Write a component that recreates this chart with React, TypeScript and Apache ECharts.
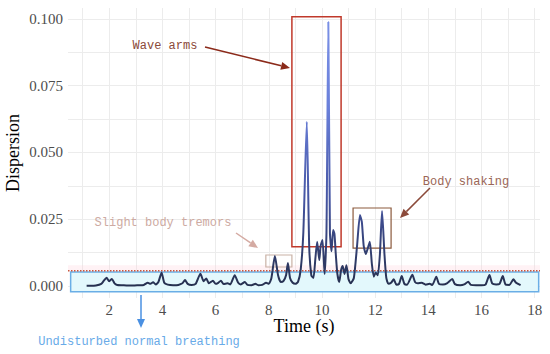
import React, { useEffect, useRef } from "react";
import * as echarts from "echarts";

const times = [
  1.15, 1.3, 1.5, 1.7, 1.8, 1.9, 2.0, 2.1, 2.2, 2.3, 2.5, 2.7, 2.9, 3.1, 3.3, 3.45, 3.55, 3.65, 3.75, 3.85,
  3.97, 4.07, 4.2, 4.4, 4.6, 4.75, 4.85, 4.95, 5.1, 5.25, 5.43, 5.55, 5.65, 5.75, 5.9, 6.0, 6.1, 6.2, 6.3, 6.45,
  6.55, 6.72, 6.85, 6.95, 7.1, 7.2, 7.35, 7.5, 7.6, 7.75, 7.9, 8.0, 8.1, 8.23, 8.35, 8.45, 8.55, 8.65, 8.72, 8.8,
  8.9, 9.0, 9.1, 9.2, 9.3, 9.43, 9.52, 9.6, 9.68, 9.75, 9.82, 9.9, 9.95, 10.02, 10.1, 10.17, 10.24, 10.3, 10.36, 10.42,
  10.47, 10.52, 10.58, 10.65, 10.72, 10.78, 10.85, 10.92, 11.0, 11.08, 11.2, 11.32, 11.43, 11.5, 11.57, 11.65, 11.72, 11.8, 11.88, 11.95,
  12.02, 12.1, 12.18, 12.26, 12.35, 12.42, 12.5, 12.6, 12.7, 12.8, 12.9, 13.0, 13.1, 13.2, 13.4, 13.5, 13.6, 13.75, 13.9, 14.05,
  14.15, 14.3, 14.4, 14.55, 14.7, 14.9, 15.0, 15.2, 15.35, 15.5, 15.6, 15.8, 16.0, 16.15, 16.3, 16.4, 16.55, 16.68, 16.8, 16.9,
  17.05, 17.2, 17.3, 17.47,
];

const dispersion = [
  0.0001, 0.0001, 0.0002, 0.0008, 0.002, 0.0031, 0.0018, 0.0026, 0.001, 0.0004, 0.0003, 0.0002, 0.0002, 0.0003, 0.0004, 0.0012, 0.0008, 0.0014, 0.0006, 0.0015,
  0.005, 0.0012, 0.0005, 0.0003, 0.0004, 0.001, 0.0022, 0.0008, 0.0004, 0.0008, 0.0046, 0.0018, 0.0028, 0.001, 0.002, 0.0008, 0.0012, 0.002, 0.0007, 0.001,
  0.0006, 0.004, 0.0012, 0.0006, 0.0015, 0.0004, 0.0003, 0.0008, 0.0003, 0.0004, 0.0012, 0.0008, 0.003, 0.0112, 0.004, 0.0015, 0.0018, 0.004, 0.0086, 0.003,
  0.0012, 0.0008, 0.0015, 0.006, 0.02, 0.0615, 0.015, 0.004, 0.003, 0.01, 0.0166, 0.0097, 0.015, 0.0172, 0.0045, 0.02, 0.0989, 0.02, 0.013, 0.021,
  0.0195, 0.012, 0.0045, 0.0015, 0.006, 0.0075, 0.0045, 0.0078, 0.0025, 0.001, 0.003, 0.015, 0.0266, 0.024, 0.015, 0.012, 0.014, 0.0166, 0.008, 0.0035,
  0.005, 0.004, 0.012, 0.0281, 0.012, 0.003, 0.0008, 0.0012, 0.0025, 0.0005, 0.0008, 0.0037, 0.0008, 0.0005, 0.0042, 0.0015, 0.001, 0.0012, 0.0005, 0.0008,
  0.0004, 0.0035, 0.0008, 0.0006, 0.001, 0.0026, 0.0007, 0.0003, 0.0006, 0.0016, 0.0004, 0.0003, 0.0003, 0.0005, 0.0041, 0.001, 0.0006, 0.0008, 0.0037, 0.0006,
  0.0004, 0.0025, 0.0012, 0.0003,
];

const xTickLabels = [2, 4, 6, 8, 10, 12, 14, 16, 18];
const xGridValues = [1, 2, 3, 4, 5, 6, 7, 8, 9, 10, 11, 12, 13, 14, 15, 16, 17, 18];
const yTickLabels = [0, 0.025, 0.05, 0.075, 0.1];
const yGridValues = [0, 0.0125, 0.025, 0.0375, 0.05, 0.0625, 0.075, 0.0875, 0.1];

const threshold = 0.0057;
const xRange = [0.45, 18.2];

const MONO = "Liberation Mono";
const SERIF = "Liberation Serif";

function arrow(x1: number, y1: number, x2: number, y2: number, color: string, w = 1.5) {
  const ang = Math.atan2(y2 - y1, x2 - x1);
  const L = 9, W = 4;
  const bx = x2 - L * Math.cos(ang), by = y2 - L * Math.sin(ang);
  const px = -Math.sin(ang) * W, py = Math.cos(ang) * W;
  return [
    { type: "line", shape: { x1, y1, x2: bx, y2: by }, style: { stroke: color, lineWidth: w }, silent: true, z: 100 },
    {
      type: "polygon",
      shape: { points: [[x2, y2], [bx + px, by + py], [bx - px, by - py]] },
      style: { fill: color },
      silent: true,
      z: 100,
    },
  ];
}

function label(text: string, x: number, y: number, color: string) {
  return {
    type: "text",
    x,
    y,
    z: 100,
    style: { text, fill: color, font: `12px "${MONO}", monospace`, textAlign: "center", textVerticalAlign: "middle" },
    silent: true,
  };
}

export default function App() {
  const ref = useRef<HTMLDivElement>(null);
  useEffect(() => {
    document.body.style.margin = "0";
    if (!ref.current) return;
    const chart = echarts.init(ref.current, undefined, { renderer: "svg" });
    const data = times.map((t, i) => [t, dispersion[i]]);
    chart.setOption({
      animation: false,
      backgroundColor: "#ffffff",
      textStyle: { fontFamily: SERIF },
      grid: { left: 68, right: 10, top: 8, bottom: 56, containLabel: false, outerBoundsMode: "none" },
      xAxis: {
        type: "value",
        min: xRange[0],
        max: xRange[1],
        name: "Time (s)",
        nameLocation: "middle",
        nameGap: 19,
        nameMoveOverlap: false,
        nameTextStyle: { fontFamily: SERIF, fontSize: 18, color: "#000" },
        axisLine: { show: false },
        axisTick: { show: false, customValues: xGridValues },
        axisLabel: {
          customValues: xTickLabels,
          fontFamily: SERIF,
          fontSize: 15,
          color: "#4d4d4d",
          margin: 4,
        },
        splitLine: { show: true, lineStyle: { color: "#ececec", width: 1 } },
      },
      yAxis: {
        type: "value",
        min: -0.0045,
        max: 0.1041,
        name: "Dispersion",
        nameLocation: "middle",
        nameGap: 46,
        nameMoveOverlap: false,
        nameTextStyle: { fontFamily: SERIF, fontSize: 18, color: "#000" },
        axisLine: { show: false },
        axisTick: { show: false, customValues: yGridValues },
        axisLabel: {
          customValues: yTickLabels,
          fontFamily: SERIF,
          fontSize: 15,
          color: "#4d4d4d",
          margin: 5,
          formatter: (v: number) => v.toFixed(3),
        },
        splitLine: { show: true, lineStyle: { color: "#ececec", width: 1 } },
      },
      visualMap: {
        show: false,
        type: "continuous",
        dimension: 1,
        seriesIndex: 0,
        min: 0,
        max: 0.1,
        inRange: { color: ["#26304f", "#4656a4", "#6a80da", "#7a90e6"] },
      },
      series: [
        {
          type: "line",
          data,
          showSymbol: false,
          smooth: 0.2,
          lineStyle: { width: 2 },
          z: 5,
          markArea: {
            silent: true,
            data: [
              [
                { xAxis: 0.55, yAxis: -0.0022, itemStyle: { color: "#e3f8fc", borderColor: "#6aaee6", borderWidth: 1.5 } },
                { xAxis: 18.15, yAxis: 0.0052 },
              ],
              [
                { xAxis: xRange[0], yAxis: threshold, itemStyle: { color: "rgba(255,205,215,0.25)", borderWidth: 0 } },
                { xAxis: xRange[1], yAxis: 0.0078 },
              ],
              [
                { xAxis: 8.87, yAxis: 0.1008, itemStyle: { color: "rgba(0,0,0,0)", borderColor: "#c0392b", borderWidth: 1.5 } },
                { xAxis: 10.72, yAxis: 0.0147 },
              ],
              [
                { xAxis: 11.17, yAxis: 0.0292, itemStyle: { color: "rgba(0,0,0,0)", borderColor: "#8b5a3c", borderWidth: 1.2 } },
                { xAxis: 12.6, yAxis: 0.0142 },
              ],
              [
                { xAxis: 7.89, yAxis: 0.0116, itemStyle: { color: "rgba(0,0,0,0)", borderColor: "#c9b2a6", borderWidth: 1.2 } },
                { xAxis: 8.87, yAxis: 0.0071 },
              ],
            ],
          },
        },
        {
          type: "line",
          data: [[xRange[0], threshold], [xRange[1], threshold]],
          showSymbol: false,
          silent: true,
          lineStyle: { color: "#c8553d", type: "dotted", width: 1.5 },
          z: 4,
        },
      ],
      graphic: [
        label("Wave arms", 165, 46, "#8b4a3a"),
        ...arrow(205, 47, 290, 68, "#8b2a1a"),
        label("Body shaking", 466, 182, "#9a6656"),
        ...arrow(430, 188, 400, 218, "#8b4a3a"),
        label("Slight body tremors", 163, 223, "#cdaaa2"),
        ...arrow(236, 233, 258, 248, "#d4aaa2"),
        label("Undisturbed normal breathing", 139, 342, "#68aae8"),
        ...arrow(141, 295, 141, 328, "#4a90e2"),
      ],
    });
    return () => chart.dispose();
  }, []);
  return <div ref={ref} style={{ width: 550, height: 354 }} />;
}
